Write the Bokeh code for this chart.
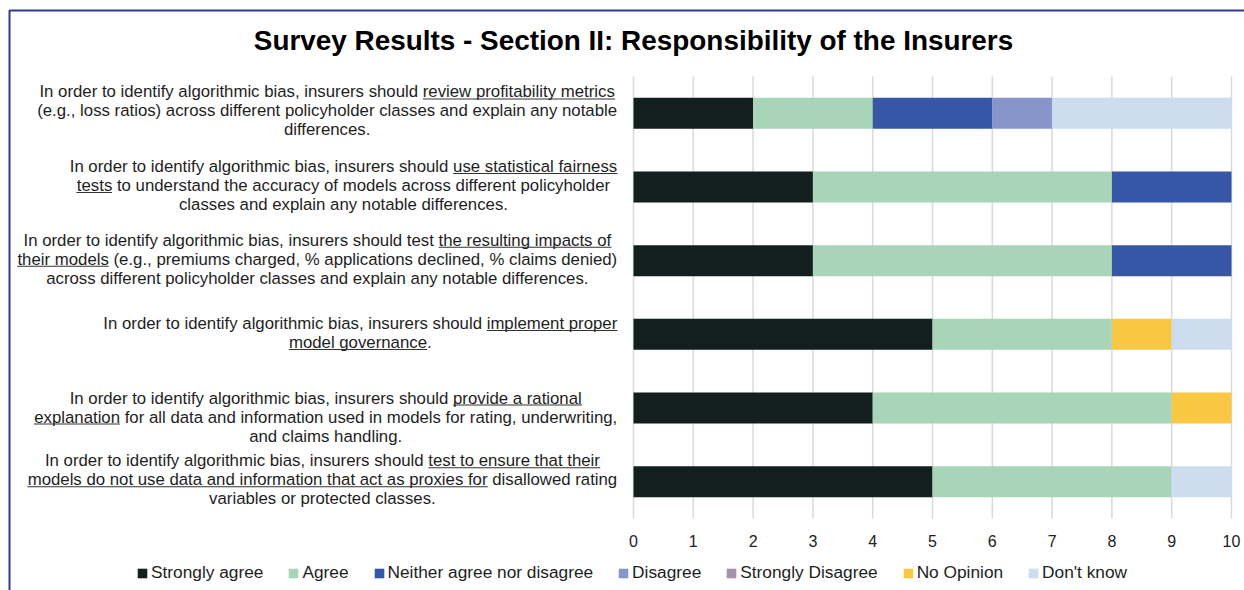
from bokeh.plotting import figure
from bokeh.models import (FactorRange, Range1d, ColumnDataSource, Label, BoxAnnotation,
                          Legend, LegendItem)
from bokeh.core.properties import value
from bokeh.embed import file_html
from bokeh.resources import INLINE

# ---------------- data ----------------
title_text = "Survey Results - Section II: Responsibility of the Insurers"

statements = [
    "In order to identify algorithmic bias, insurers should review profitability metrics\n"
    "(e.g., loss ratios) across different policyholder classes and explain any notable\n"
    "differences.",
    "In order to identify algorithmic bias, insurers should use statistical fairness\n"
    "tests to understand the accuracy of models across different policyholder\n"
    "classes and explain any notable differences.",
    "In order to identify algorithmic bias, insurers should test the resulting impacts of\n"
    "their models (e.g., premiums charged, % applications declined, % claims denied)\n"
    "across different policyholder classes and explain any notable differences.",
    "In order to identify algorithmic bias, insurers should implement proper\n"
    "model governance.",
    "In order to identify algorithmic bias, insurers should provide a rational\n"
    "explanation for all data and information used in models for rating, underwriting,\n"
    "and claims handling.",
    "In order to identify algorithmic bias, insurers should test to ensure that their\n"
    "models do not use data and information that act as proxies for disallowed rating\n"
    "variables or protected classes.",
]
underlined = [
    "review profitability metrics",
    "use statistical fairness tests",
    "the resulting impacts of their models",
    "implement proper model governance",
    "provide a rational explanation",
    "test to ensure that their models do not use data and information that act as proxies for",
]

responses = ["Strongly agree", "Agree", "Neither agree nor disagree", "Disagree",
             "Strongly Disagree", "No Opinion", "Don't know"]
strongly_agree    = [2, 3, 3, 5, 4, 5]
agree             = [2, 5, 5, 3, 5, 4]
neither           = [2, 2, 2, 0, 0, 0]
disagree          = [1, 0, 0, 0, 0, 0]
strongly_disagree = [0, 0, 0, 0, 0, 0]
no_opinion        = [0, 0, 0, 1, 1, 0]
dont_know         = [3, 0, 0, 1, 0, 1]
tick_values = [0, 1, 2, 3, 4, 5, 6, 7, 8, 9, 10]
tick_labels = ["0", "1", "2", "3", "4", "5", "6", "7", "8", "9", "10"]

colors = ["#121f1e", "#a8d5b8", "#3757a6", "#8895cb", "#a491ab", "#f8c844", "#cddcee"]

# ---------------- layout constants ----------------
W, H = 1244, 590
TOP_BORDER = 4
X0_PX, X10_PX = 633, 1231          # where 0 and 10 fall on the canvas
BAND_TOP, BAND_BOT = 76, 518       # extent of the category bands
FONT = "Liberation Sans"
FS = 16.8
LEG_FS = 17.3
LINE_H = 19
TEXT_RIGHT = 617
shifts = [-2.5, -1.5, -1.5, -1.5, 9, -2]

# Arial / Liberation Sans advance widths (per 1000 em)
_w = {' ': 278, '!': 278, '"': 355, '#': 556, '$': 556, '%': 889, '&': 667, "'": 191,
      '(': 333, ')': 333, '*': 389, '+': 584, ',': 278, '-': 333, '.': 278, '/': 278,
      ':': 278, ';': 278, '?': 556}
for ch in "0123456789":
    _w[ch] = 556
_w.update(dict(A=667, B=667, C=722, D=722, E=667, F=611, G=778, H=722, I=278, J=500, K=667,
               L=556, M=833, N=722, O=778, P=667, Q=778, R=722, S=667, T=611, U=722, V=667,
               W=944, X=667, Y=667, Z=611))
_w.update(dict(a=556, b=556, c=500, d=556, e=556, f=278, g=556, h=556, i=222, j=222, k=500,
               l=222, m=833, n=556, o=556, p=556, q=556, r=333, s=500, t=278, u=556, v=500,
               w=722, x=500, y=500, z=500))


def text_width(s, size):
    return sum(_w.get(c, 556) for c in s) * size / 1000.0


def sx(cx):          # canvas x (from left) -> screen units of the frame
    return cx


def sy(cy):          # canvas y (from top) -> screen units (from frame bottom)
    return H - cy


cats = [s.replace("\n", " ") for s in statements]
n = len(cats)
keys = ["sa", "ag", "ne", "di", "sd", "no", "dk"]
series = [strongly_agree, agree, neither, disagree, strongly_disagree, no_opinion, dont_know]
data = dict(cat=cats)
for k, v in zip(keys, series):
    data[k] = v
src = ColumnDataSource(data)

# ranges chosen so that (almost) the whole canvas is the frame
px_per_unit = (X10_PX - X0_PX) / 10.0
x_range = Range1d(-X0_PX / px_per_unit, 10 + (W - X10_PX) / px_per_unit)
band = (BAND_BOT - BAND_TOP) / n
frame_h = H - TOP_BORDER
pad = (frame_h / band - n) / 2.0
y_range = FactorRange(factors=list(reversed(cats)), range_padding=pad,
                      range_padding_units="absolute")
top_px = TOP_BORDER + pad * band

p = figure(width=W, height=H, output_backend="svg", toolbar_location=None,
           x_range=x_range, y_range=y_range, min_border=0, min_border_top=TOP_BORDER)
p.axis.visible = False
p.grid.visible = False
p.outline_line_color = None
p.background_fill_color = "white"
p.border_fill_color = "white"

# vertical grid lines over the band area
p.segment(x0=tick_values, x1=tick_values, y0=[0] * len(tick_values),
          y1=[n] * len(tick_values), line_color="#d9d9d9", line_width=1.5)

rends = p.hbar_stack(keys, y="cat", height=0.42, fill_color=colors, line_color=None,
                     source=src)

# tick labels
p.text(x=tick_values, y=[0] * len(tick_values), text=tick_labels, y_offset=22,
       text_align="center", text_baseline="middle", text_font=value(FONT),
       text_font_size="16px", text_color="#222222")

# title
p.add_layout(Label(x=sx(633), y=sy(40), x_units="screen", y_units="screen", text=title_text,
                   text_align="center", text_baseline="middle", text_font=FONT,
                   text_font_size="27.9px", text_font_style="bold", text_color="#000000"))

# statement labels with underlines
for i, st in enumerate(statements):
    lines = st.split("\n")
    k = len(lines)
    maxw = max(text_width(l, FS) for l in lines)
    cxc = TEXT_RIGHT - maxw / 2
    center = top_px + band * (i + 0.5) + shifts[i]
    flat = cats[i]
    us = flat.find(underlined[i])
    ue = us + len(underlined[i])
    pos = 0
    for j, line in enumerate(lines):
        yc = center + (j - (k - 1) / 2) * LINE_H
        p.add_layout(Label(x=sx(cxc), y=sy(yc), x_units="screen", y_units="screen",
                           text=line, text_align="center", text_baseline="middle",
                           text_font=FONT, text_font_size=f"{FS}px", text_color="#1e1e1e"))
        ls, le = pos, pos + len(line)
        a, b = max(us, ls), min(ue, le)
        if us >= 0 and a < b:
            lw = text_width(line, FS)
            x0 = cxc - lw / 2 + text_width(line[:a - ls], FS)
            x1 = x0 + text_width(line[a - ls:b - ls], FS)
            p.add_layout(BoxAnnotation(left=sx(x0), right=sx(x1), top=sy(yc + 6.6),
                                       bottom=sy(yc + 7.6), left_units="screen",
                                       right_units="screen", top_units="screen",
                                       bottom_units="screen", fill_color="#333333",
                                       fill_alpha=1, line_color=None, line_alpha=0))
        pos = le + 1

# legend
items = [LegendItem(label=r, renderers=[rd]) for r, rd in zip(responses, rends)]
legend = Legend(items=items, orientation="horizontal", location=(sx(136), sy(583)),
                glyph_width=12, glyph_height=12, label_standoff=3, spacing=24,
                padding=0, margin=0, border_line_color=None, background_fill_alpha=0,
                label_text_font=FONT, label_text_font_size=f"{LEG_FS}px",
                label_text_color="#1e1e1e", label_height=20)
p.add_layout(legend)

# outer border (top and left visible)
p.add_layout(BoxAnnotation(left=sx(9), right=sx(1400), top=sy(10), bottom=sy(700),
                           left_units="screen", right_units="screen", top_units="screen",
                           bottom_units="screen", fill_alpha=0, line_color="#2e3b8c",
                           line_width=2, line_alpha=1))

open("out.html", "w").write(file_html(p, INLINE))
